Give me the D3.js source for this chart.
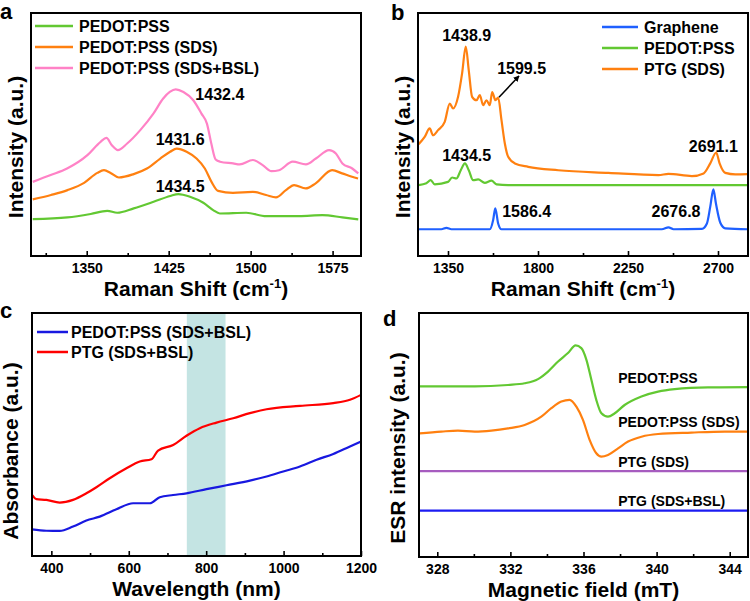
<!DOCTYPE html>
<html><head><meta charset="utf-8">
<script src="https://cdn.jsdelivr.net/npm/d3@7"></script>
<style>
html,body{margin:0;padding:0;background:#fff;}
svg{display:block;font-family:"Liberation Sans",Arial,sans-serif;font-weight:bold;}
</style></head>
<body><svg id="c" width="750" height="601"></svg>
<script>
// ---------- Panel a : Raman (PEDOT:PSS series) ----------
const aMajor = [1350, 1425, 1500, 1575];
const aMinor = [1312.5, 1387.5, 1462.5, 1537.5];
const aGreenX = [1300.6,1332.4,1353.6,1368.8,1377.9,1393.0,1411.2,1426.4,1433.9,1444.5,1456.7,1465.7,1471.8,1496.0,1514.2,1544.5,1565.7,1583.9,1598.5];
const aGreenY = [15.2,15.9,17.3,18.6,17.8,19.6,22.3,24.7,25.5,24.4,21.9,18.9,17.5,17.8,16.4,16.4,16.8,15.9,15.1];
const aOrangeX = [1300.6,1317.3,1332.4,1347.6,1359.7,1365.8,1371.8,1379.4,1393.0,1405.1,1417.3,1426.3,1432.4,1441.4,1450.5,1458.1,1464.2,1470.2,1483.8,1502.0,1514.1,1523.2,1532.3,1539.8,1550.4,1559.5,1574.6,1583.7,1592.8,1598.3];
const aOrangeY = [23.3,25.1,27.1,30.1,34.2,35.3,34.2,32.3,33.7,36.0,40.1,42.9,44.2,42.9,40.1,36.0,30.5,26.8,26.0,26.4,25.1,24.1,27.1,29.2,27.8,29.9,35.3,34.0,32.6,31.9];
const aPinkX = [1300.6,1317,1332,1350.6,1362.7,1368,1373,1378.5,1387,1399,1411,1420,1426,1431.5,1438.5,1447.5,1455,1460,1464,1468,1472,1484,1490,1502,1511,1519,1526,1538.5,1550.6,1559.7,1571.8,1578,1584,1593,1598.5];
const aPinkY = [30.5,33.3,36.0,41.5,47.0,48.6,45.6,43.6,46.3,51.8,58.6,64.8,67.5,68.6,67.5,64.1,58.6,54.5,46.3,39.7,38.8,38.1,37.7,39.5,37.4,34.9,35.3,38.8,37.7,40.1,43.6,42.2,38.1,36.0,34.0];
const aLegend = ["PEDOT:PSS", "PEDOT:PSS (SDS)", "PEDOT:PSS (SDS+BSL)"];
const aPeakLabels = ["1432.4", "1431.6", "1434.5"];
const aPeakX = [1471.8, 1435.5, 1435.5];
const aPeakY = [64.0, 45.5, 26.5];

// ---------- Panel b : Raman (wide range) ----------
const bMajor = [1350, 1800, 2250, 2700];
const bMinor = [1575, 2025, 2475];
const bBlueX = [1203.3,1316.9,1341.9,1367.0,1559.1,1575.8,1586.4,1600.8,1617.5,2419.1,2452.5,2477.6,2619.5,2644.6,2661.3,2676.8,2689.7,2711.5,2736.5,2850];
const bBlueY = [11.0,11.0,11.6,11.0,11.0,14.8,19.6,13.4,11.0,11.0,11.8,11.0,11.2,13.4,20.3,27.4,21.6,13.7,11.4,11.0];
const bGreenX = [1203.3,1241.8,1263.5,1283.5,1350.3,1370.4,1392.1,1413.8,1434.5,1453.9,1475.6,1500.7,1534.0,1567.4,1592.5,1650.9,2850];
const bGreenY = [29.2,29.9,31.2,29.5,30.5,32.3,31.9,35.3,38.1,35.3,31.2,31.5,30.1,31.0,29.5,29.2,29.2];
const bOrangeX = [1203.3,1233.4,1258.5,1275.2,1300.2,1333.6,1358.7,1375.4,1400.4,1420.4,1438.9,1453.8,1470.5,1492.3,1509.0,1525.7,1542.4,1559.1,1570.7,1587.4,1600.8,1617.5,1634.2,1650.9,1684.3,1751.1,1901.4,2151.9,2402.4,2452.0,2569.4,2627.9,2661.3,2691.1,2708.0,2736.4,2786.5,2850.0];
const bOrangeY = [46.0,49.0,52.5,49.7,51.8,55.2,62.7,60.7,65.5,75.1,86.2,76.4,65.5,64.1,66.2,62.1,64.1,62.1,67.5,64.1,65.2,55.9,46.3,40.8,38.1,36.7,35.3,34.2,33.3,33.8,32.9,34.0,38.1,42.6,38.1,34.2,33.6,33.7];
const bLegend = ["Graphene", "PEDOT:PSS", "PTG (SDS)"];
const bPeakLabels = ["1438.9", "1599.5", "1434.5", "2691.1", "1586.4", "2676.8"];
const bPeakX = [1443.5, 1718, 1443.5, 2676.7, 1743.5, 2490];
const bPeakY = [88.6, 74.9, 39.2, 42.9, 15.9, 15.9];
const bArrowX = [1605, 1705];
const bArrowY = [65.3, 74.1];

// ---------- Panel c : Absorbance ----------
const cMajor = [400, 600, 800, 1000, 1200];
const cMinor = [500, 700, 900, 1100];
const cBand = [750, 850];
const cBlueX = [350,387.1,421.5,456.0,490.5,525.0,568.1,611.2,654.3,680.1,714.6,749.1,800.8,852.5,912.9,956.0,999.1,1042.2,1085.3,1128.4,1171.5,1200];
const cBlueY = [11.0,10.4,10.3,12.1,14.6,16.2,19.2,21.7,21.7,24.2,25.1,25.8,27.5,29.1,31.0,32.7,34.8,36.8,39.6,42.0,45.1,47.1];
const cRedX = [350,361.2,387.1,421.5,456.0,490.5,516.4,550.8,594.0,628.4,658.6,675.8,714.6,749.1,783.6,826.7,869.8,912.9,956.0,1042.2,1128.4,1171.5,1200];
const cRedY = [25.1,23.4,23.1,22.0,23.1,25.8,28.3,32.0,36.1,38.9,39.8,43.4,45.7,49.5,52.6,54.9,56.7,58.8,60.4,61.8,62.9,64.3,66.3];
const cLegend = ["PEDOT:PSS (SDS+BSL)", "PTG (SDS+BSL)"];

// ---------- Panel d : ESR ----------
const dMajor = [328, 332, 336, 340, 344];
const dMinor = [330, 334, 338, 342];
const dGreenX = [327.04,330.05,331.87,332.78,333.51,334.06,334.61,335.15,335.57,335.88,336.16,336.43,336.70,336.98,337.34,337.71,338.25,339.17,340.08,340.99,342.81,345.0];
const dGreenY = [69.9,69.9,70.5,71.2,72.9,76.0,80.1,83.6,86.7,85.6,80.8,72.6,64.4,58.9,57.5,58.9,62.3,65.8,67.8,68.8,69.5,69.6];
const dOrangeX = [327.04,328.22,329.13,330.05,330.96,331.87,332.78,333.69,334.24,334.79,335.24,335.61,335.97,336.34,336.70,336.98,337.34,337.89,338.44,339.17,340.08,341.90,343.73,345.0];
const dOrangeY = [50.7,51.4,51.8,51.4,51.8,52.7,54.1,57.5,61.0,63.7,64.4,61.6,56.2,47.9,42.5,41.1,41.8,44.5,47.3,49.3,50.4,51.0,51.4,51.4];
const dPurpleX = [327, 345];
const dPurpleY = [35.2, 35.2];
const dBlueX = [327, 345];
const dBlueY = [19.0, 19.0];
const dLabels = ["PEDOT:PSS", "PEDOT:PSS (SDS)", "PTG (SDS)", "PTG (SDS+BSL)"];
const dLabelX = [337.9, 337.9, 337.9, 337.9];
const dLabelY = [71.2, 53.4, 37.0, 20.9];

// ---------- colours ----------
const GREEN = "#62c832", ORANGE = "#ff8010", PINK = "#ff82c6";
const GBLUE = "#1f60ff", CBLUE = "#1818e0", RED = "#ff0000", PURPLE = "#a65cbf", DBLUE = "#1c1cf2";

const svg = d3.select("#c");
svg.append("defs").append("marker").attr("id","arr").attr("viewBox","0 0 10 10")
  .attr("refX",9).attr("refY",5).attr("markerWidth",4).attr("markerHeight",4).attr("orient","auto")
  .append("path").attr("d","M0,0L10,5L0,10z").attr("fill","#000");

function makePanel(o) {
  const g = svg.append("g");
  const x = d3.scaleLinear().domain(o.xd).range([o.l, o.r]);
  const y = d3.scaleLinear().domain([0, 100]).range([o.b, o.t]);
  const cid = "clip" + o.letter;
  svg.select("defs").append("clipPath").attr("id", cid).append("rect")
    .attr("x", o.l).attr("y", o.t).attr("width", o.r - o.l).attr("height", o.b - o.t);
  const plot = g.append("g").attr("clip-path", `url(#${cid})`);
  const ax = g.append("g").attr("transform", `translate(0,${o.b})`)
    .call(d3.axisBottom(x).tickValues(o.major).tickSizeInner(-5).tickSizeOuter(0).tickPadding(7).tickFormat(d3.format("d")));
  ax.select(".domain").remove();
  ax.selectAll("text").attr("font-size", 14).attr("font-weight", "bold").attr("fill", "#000")
    .attr("font-family", '"Liberation Sans",Arial,sans-serif');
  ax.selectAll("line").attr("stroke-width", 1.6);
  const mx = g.append("g").attr("transform", `translate(0,${o.b})`)
    .call(d3.axisBottom(x).tickValues(o.minor).tickSizeInner(-3).tickSizeOuter(0).tickFormat(""));
  mx.select(".domain").remove();
  mx.selectAll("line").attr("stroke-width", 1.6);
  g.append("rect").attr("x", o.l).attr("y", o.t).attr("width", o.r - o.l).attr("height", o.b - o.t)
    .attr("fill", "none").attr("stroke", "#000").attr("stroke-width", 2);
  const xt = g.append("text").attr("x", (o.l + o.r) / 2).attr("y", o.b + 40)
    .attr("text-anchor", "middle").attr("font-size", 21);
  o.xTitle(xt);
  g.append("text").attr("transform", `translate(${o.ytx},${o.yty}) rotate(-90)`)
    .attr("text-anchor", "middle").attr("font-size", 21).text(o.yTitle);
  g.append("text").attr("x", o.lx).attr("y", o.ly).attr("font-size", 22).text(o.letter);
  return {g, plot, x, y};
}

function drawLine(P, xs, ys, color, curve) {
  const pts = xs.map((v, i) => [v, ys[i]]);
  P.plot.append("path").datum(pts)
    .attr("fill", "none").attr("stroke", color).attr("stroke-width", 2.2).attr("stroke-linejoin", "round")
    .attr("d", d3.line().x(d => P.x(d[0])).y(d => P.y(d[1])).curve(curve || d3.curveMonotoneX));
}

function legend(P, items, colors, lx1, lx2, tx, ys) {
  items.forEach((t, i) => {
    P.g.append("line").attr("x1", lx1).attr("x2", lx2).attr("y1", ys[i]).attr("y2", ys[i])
      .attr("stroke", colors[i]).attr("stroke-width", 2.5);
    P.g.append("text").attr("x", tx).attr("y", ys[i] + 5.8).attr("font-size", 16).text(t);
  });
}

function ramanTitle(t) {
  t.append("tspan").text("Raman Shift (cm");
  t.append("tspan").attr("dy", -8).attr("font-size", 13).text("-1");
  t.append("tspan").attr("dy", 8).text(")");
}

// ---- a ----
const A = makePanel({l:31, r:361, t:13, b:256, xd:[1299, 1601], major:aMajor, minor:aMinor,
  xTitle: ramanTitle, yTitle:"Intensity (a.u.)", ytx:23, yty:147, letter:"a", lx:0, ly:19});
drawLine(A, aGreenX, aGreenY, GREEN);
drawLine(A, aOrangeX, aOrangeY, ORANGE);
drawLine(A, aPinkX, aPinkY, PINK);
legend(A, aLegend, [GREEN, ORANGE, PINK], 35, 73, 79, [26, 47, 68]);
aPeakLabels.forEach((t, i) => A.g.append("text").attr("x", A.x(aPeakX[i])).attr("y", A.y(aPeakY[i]))
  .attr("text-anchor", "middle").attr("font-size", 16).text(t));

// ---- b ----
const B = makePanel({l:418, r:748, t:13, b:256, xd:[1200, 2850], major:bMajor, minor:bMinor,
  xTitle: ramanTitle, yTitle:"Intensity (a.u.)", ytx:410, yty:147, letter:"b", lx:391, ly:20});
drawLine(B, bBlueX, bBlueY, GBLUE);
drawLine(B, bGreenX, bGreenY, GREEN);
drawLine(B, bOrangeX, bOrangeY, ORANGE);
legend(B, bLegend, [GBLUE, GREEN, ORANGE], 602, 638, 644, [27, 48, 69]);
bPeakLabels.forEach((t, i) => B.g.append("text").attr("x", B.x(bPeakX[i])).attr("y", B.y(bPeakY[i]))
  .attr("text-anchor", "middle").attr("font-size", 16).text(t));
B.g.append("line").attr("x1", B.x(bArrowX[0])).attr("y1", B.y(bArrowY[0]))
  .attr("x2", B.x(bArrowX[1])).attr("y2", B.y(bArrowY[1]))
  .attr("stroke", "#000").attr("stroke-width", 1.5).attr("marker-end", "url(#arr)");

// ---- c ----
const C = makePanel({l:32, r:361, t:313, b:556, xd:[350, 1200], major:cMajor, minor:cMinor,
  xTitle: t => t.text("Wavelength (nm)"), yTitle:"Absorbance (a.u.)", ytx:18, yty:451, letter:"c", lx:0, ly:318});
C.plot.insert("rect", ":first-child").attr("x", C.x(cBand[0])).attr("width", C.x(cBand[1]) - C.x(cBand[0]))
  .attr("y", 313).attr("height", 243).attr("fill", "#c4e4e3");
drawLine(C, cBlueX, cBlueY, CBLUE);
drawLine(C, cRedX, cRedY, RED);
legend(C, cLegend, [CBLUE, RED], 37, 68, 71, [332, 352]);

// ---- d ----
const D = makePanel({l:419, r:748, t:313, b:557, xd:[327, 345], major:dMajor, minor:dMinor,
  xTitle: t => t.text("Magnetic field (mT)"), yTitle:"ESR intensity (a.u.)", ytx:405, yty:448, letter:"d", lx:383, ly:326});
drawLine(D, dGreenX, dGreenY, GREEN);
drawLine(D, dOrangeX, dOrangeY, ORANGE);
drawLine(D, dPurpleX, dPurpleY, PURPLE);
drawLine(D, dBlueX, dBlueY, DBLUE);
dLabels.forEach((t, i) => D.g.append("text").attr("x", D.x(dLabelX[i])).attr("y", D.y(dLabelY[i]))
  .attr("font-size", 14).text(t));
</script></body></html>
